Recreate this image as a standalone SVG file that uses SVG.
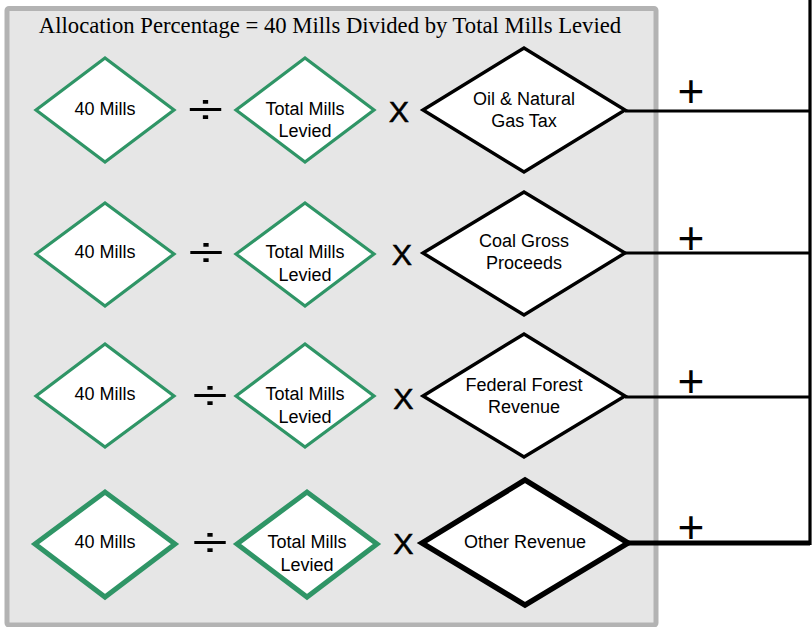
<svg xmlns="http://www.w3.org/2000/svg" width="812" height="627" viewBox="0 0 812 627">
<style>
.panel{fill:#e6e6e6;stroke:#b3b3b3;stroke-width:5}
.g{fill:#fff;stroke:#2f9566;stroke-width:3.2;stroke-linejoin:miter}
.g4{stroke-width:5}
.b{fill:#fff;stroke:#000;stroke-width:3.4}
.b4{stroke-width:5.5}
.t{font-family:"Liberation Sans",Arial,sans-serif;font-size:18px;fill:#000;text-anchor:middle}
.title{font-family:"Liberation Serif","Times New Roman",serif;font-size:22.7px;fill:#000;text-anchor:middle}
.op{font-family:"Liberation Sans",Arial,sans-serif;fill:#000;text-anchor:middle}
.x{font-size:29px;stroke:#000;stroke-width:0.5}
.plus{font-size:46px}
.div{font-size:42px}
.ln{fill:none;stroke:#000;stroke-width:3.2}
.ln4{stroke-width:5}
</style>
<rect class="panel" x="7" y="8.5" width="649" height="616.5" rx="2"/>
<text class="title" x="330" y="33">Allocation Percentage = 40 Mills Divided by Total Mills Levied</text>

<g id="connectors">
<polyline class="ln" points="625,111 810,111"/>
<polyline class="ln" points="625,253 810,253"/>
<polyline class="ln" points="625,397 810,397"/>
<polyline class="ln ln4" points="628,543 810,543"/>
<polyline class="ln" points="810,0 810,545"/>
</g>

<g id="row1">
<g id="r1-mills"><polygon class="g" points="36,110 105,58 174,110 105,162"/><text class="t" x="105" y="114.5">40 Mills</text></g>
<text class="op div" x="0" y="123.7" transform="translate(205.5 0) scale(1.54 1)">÷</text>
<g id="r1-total"><polygon class="g" points="236,110 305,58 374,110 305,162"/><text class="t" x="305" y="115">Total Mills</text><text class="t" x="305" y="137">Levied</text></g>
<text class="op x" x="0" y="122" transform="translate(399 0) scale(1.05 1)">X</text>
<g id="r1-oil"><polygon class="b" points="423,110 524,48 625,110 524,172"/><text class="t" x="524" y="104.5">Oil &amp; Natural</text><text class="t" x="524" y="127">Gas Tax</text></g>
<text class="op plus" x="691" y="107">+</text>
</g>

<g id="row2">
<g id="r2-mills"><polygon class="g" points="36,254 105,203 174,254 105,306"/><text class="t" x="105" y="258">40 Mills</text></g>
<text class="op div" x="0" y="266.7" transform="translate(206 0) scale(1.54 1)">÷</text>
<g id="r2-total"><polygon class="g" points="236,254 305,203 374,254 305,306"/><text class="t" x="305" y="258">Total Mills</text><text class="t" x="305" y="281">Levied</text></g>
<text class="op x" x="0" y="265" transform="translate(402 0) scale(1.05 1)">X</text>
<g id="r2-coal"><polygon class="b" points="423,253 524,192 625,253 524,315"/><text class="t" x="524" y="247">Coal Gross</text><text class="t" x="524" y="268.5">Proceeds</text></g>
<text class="op plus" x="691" y="254">+</text>
</g>

<g id="row3">
<g id="r3-mills"><polygon class="g" points="36,396 105,344 174,396 105,447"/><text class="t" x="105" y="400">40 Mills</text></g>
<text class="op div" x="0" y="409.7" transform="translate(210 0) scale(1.54 1)">÷</text>
<g id="r3-total"><polygon class="g" points="236,396 305,344 374,396 305,447"/><text class="t" x="305" y="400">Total Mills</text><text class="t" x="305" y="423">Levied</text></g>
<text class="op x" x="0" y="409" transform="translate(403.5 0) scale(1.05 1)">X</text>
<g id="r3-forest"><polygon class="b" points="423,396 524,334 625,396 524,457"/><text class="t" x="524" y="391">Federal Forest</text><text class="t" x="524" y="413">Revenue</text></g>
<text class="op plus" x="691" y="397">+</text>
</g>

<g id="row4">
<g id="r4-mills"><polygon class="g g4" points="35,544 105,492 175,544 105,597"/><text class="t" x="105" y="548">40 Mills</text></g>
<text class="op div" x="0" y="556.7" transform="translate(210 0) scale(1.54 1)">÷</text>
<g id="r4-total"><polygon class="g g4" points="237,544 307,492 377,544 307,597"/><text class="t" x="307" y="548">Total Mills</text><text class="t" x="307" y="571">Levied</text></g>
<text class="op x" x="0" y="554" transform="translate(403.5 0) scale(1.05 1)">X</text>
<g id="r4-other"><polygon class="b b4" points="422,543 525,480 628,543 525,605"/><text class="t" x="525" y="548">Other Revenue</text></g>
<text class="op plus" x="691" y="543">+</text>
</g>
</svg>
